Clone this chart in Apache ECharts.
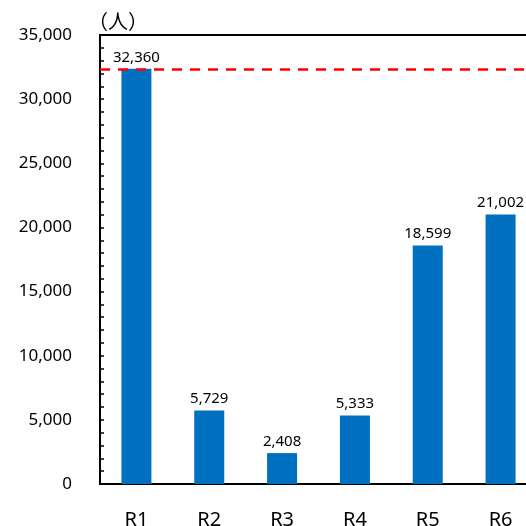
<!DOCTYPE html>
<html>
<head>
<meta charset="utf-8">
<script src="https://cdn.jsdelivr.net/npm/echarts@6/dist/echarts.min.js"></script>
<style>
  html, body { margin: 0; padding: 0; background: #fff; }
  #chart { width: 526px; height: 526px; }
</style>
</head>
<body>
<div id="chart"></div>
<script>
// Regions and head counts
const categories = ['R1', 'R2', 'R3', 'R4', 'R5', 'R6'];
const values = [32360, 5729, 2408, 5333, 18599, 21002];
// Reference level drawn as a dashed line (equals R1)
const referenceLevel = 32360;
const yMax = 35000;
const yInterval = 5000;
const unitLabel = '（人）';

const FONT = '"Noto Sans", "Noto Sans CJK JP", sans-serif';
const GRID_LEFT = 100, GRID_WIDTH = 437;

const chart = echarts.init(document.getElementById('chart'));
chart.setOption({
  animation: false,
  backgroundColor: '#ffffff',
  grid: {
    left: GRID_LEFT, top: 35, width: GRID_WIDTH, height: 449,
    outerBoundsMode: 'none',
    containLabel: false,
    show: true, borderColor: '#000', borderWidth: 2, backgroundColor: 'transparent'
  },
  xAxis: {
    type: 'category',
    data: categories,
    axisLine: { lineStyle: { color: '#000', width: 2 } },
    axisTick: { show: false },
    axisLabel: { color: '#000', fontFamily: FONT, fontSize: 20, margin: 26 }
  },
  yAxis: [{
    // value axis with labels and unit name
    type: 'value',
    min: 0, max: yMax, interval: yInterval,
    name: unitLabel,
    nameLocation: 'end',
    nameGap: 2,
    nameTextStyle: { color: '#000', fontFamily: FONT, fontSize: 20, align: 'left', padding: [0, 0, 0, -12] },
    axisLine: { show: true, lineStyle: { color: '#000', width: 2 } },
    axisTick: { show: false },
    splitLine: { show: false },
    axisLabel: {
      color: '#000', fontFamily: FONT, fontSize: 17, margin: 28,
      formatter: v => v.toLocaleString('en-US')
    }
  }, {
    // same scale, placed on the left edge so its ticks point into the plot
    type: 'value',
    min: 0, max: yMax, interval: yInterval,
    position: 'right',
    offset: -GRID_WIDTH,
    axisLine: { show: false },
    axisTick: { show: true, length: 4, lineStyle: { color: '#000', width: 1.5 } },
    minorTick: { show: true, splitNumber: 5, length: 4, lineStyle: { color: '#000', width: 1.5 } },
    splitLine: { show: false },
    axisLabel: { show: false }
  }],
  series: [{
    type: 'bar',
    data: values,
    barWidth: 30,
    itemStyle: { color: '#0070C0' },
    label: {
      show: true, position: 'top', distance: 4,
      color: '#000', fontFamily: FONT, fontSize: 15,
      formatter: p => p.value.toLocaleString('en-US')
    },
    markLine: {
      silent: true,
      symbol: 'none',
      label: { show: false },
      lineStyle: { color: '#FF0000', width: 2.5, type: [10, 8] },
      data: [{ yAxis: referenceLevel }]
    }
  }]
});
</script>
</body>
</html>
